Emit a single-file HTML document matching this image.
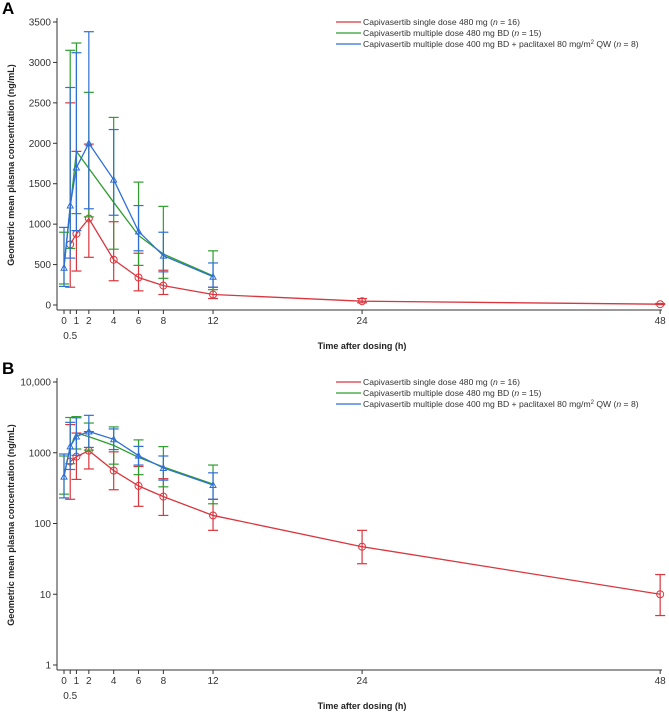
<!DOCTYPE html>
<html><head><meta charset="utf-8"><style>
body{margin:0;background:#fff;width:669px;height:712px;overflow:hidden}
svg{font-family:"Liberation Sans",sans-serif}
</style></head><body>
<svg id="chart" width="669" height="712" viewBox="0 0 669 712"></svg>
<script>
const times=[0,0.5,1,2,4,6,8,12,24,48];
const redT=[0.5,1,2,4,6,8,12,24,48];
const redMean=[750,880,1070,560,340,240,130,47,10];
const redLo=[220,420,590,300,175,130,80,27,5];
const redHi=[2500,1900,1990,1030,640,430,220,80,19];
const greenT=[0,0.5,1,2,4,6,8,12];
const greenMean=[480,1200,1900,1690,1270,860,630,360];
const greenLo=[260,700,1130,1090,690,490,330,190];
const greenHi=[900,3150,3240,2630,2320,1520,1220,670];
const blueT=[0,0.5,1,2,4,6,8,12];
const blueMean=[460,1230,1700,2000,1550,910,610,350];
const blueLo=[230,580,920,1190,1110,670,410,220];
const blueHi=[960,2690,3120,3380,2170,1230,900,520];
const linTicks=[0,500,1000,1500,2000,2500,3000,3500];
const logTicks=[1,10,100,1000,10000];
const logLabels=["1","10","100","1000","10,000"];
const xTicks=[0,1,2,4,6,8,12,24,48];
const legendLabels=['Capivasertib single dose 480 mg (<tspan font-style="italic">n</tspan> = 16)','Capivasertib multiple dose 480 mg BD (<tspan font-style="italic">n</tspan> = 15)','Capivasertib multiple dose 400 mg BD + paclitaxel 80 mg/m<tspan font-size="6" dy="-3">2</tspan><tspan dy="3"> QW (</tspan><tspan font-style="italic">n</tspan> = 8)'];
const colors=['#d9363e','#2e9e2e','#2f6fd6'];
const svg=document.getElementById('chart');
const NS='http://www.w3.org/2000/svg';
function mk(tag,attrs,parent){const e=document.createElementNS(NS,tag);for(const k in attrs)e.setAttribute(k,attrs[k]);(parent||svg).appendChild(e);return e;}
const xs=t=>64+t*12.42;
function panel(off,log,letter){
  const g=mk('g',{});
  
  
  const ys=log?(v=>off+305-Math.log10(v)*70.75):(v=>off+305-v*283/3500);
  const lt=mk('text',{x:2,y:off+14,'font-size':17,'font-weight':'bold'},g);lt.textContent=letter;
  
  const axY=off+310;
  const ya=mk('line',{x1:57,y1:off+18,x2:57,y2:axY,stroke:'#333','stroke-width':1},g);
  
  const xa=mk('line',{x1:57,y1:axY,x2:662,y2:axY,stroke:'#333','stroke-width':1},g);
  
  const yt=log?logTicks:linTicks;
  yt.forEach((v,i)=>{const y=ys(v);mk('line',{x1:53,y1:y,x2:57,y2:y,stroke:'#333'},g);
    const t=mk('text',{x:51,y:y+3.5,'font-size':10,'text-anchor':'end',fill:'#333'},g);t.textContent=log?logLabels[i]:v;
    });
  [0,0.5,1,2,4,6,8,12,24,48].forEach(v=>mk('line',{x1:xs(v),y1:axY,x2:xs(v),y2:axY+4,stroke:'#333'},g));
  xTicks.forEach(v=>{const t=mk('text',{x:xs(v),y:axY+14,'font-size':10,'text-anchor':'middle',fill:'#333'},g);t.textContent=v;
    });
  const h=mk('text',{x:xs(0.5),y:axY+29,'font-size':10,'text-anchor':'middle',fill:'#333'},g);h.textContent='0.5';
  const xt=mk('text',{x:362,y:off+349,'font-size':9,'font-weight':'bold','text-anchor':'middle',fill:'#222'},g);xt.textContent='Time after dosing (h)';
  
  const yy=off+165;
  const ytl=mk('text',{x:14,y:yy,'font-size':9,'font-weight':'bold','text-anchor':'middle',fill:'#222',transform:`rotate(-90 14 ${yy})`},g);ytl.textContent='Geometric mean plasma concentration (ng/mL)';
  
  const series=[[redT,redMean,redLo,redHi],[greenT,greenMean,greenLo,greenHi],[blueT,blueMean,blueLo,blueHi]];
  const names=['single-dose','multiple-dose','multiple-dose-paclitaxel'];
  series.forEach((s,si)=>{const c=colors[si];
    const sg=mk('g',{},g);
    s[0].forEach((t,i)=>{const x=xs(t);
      mk('line',{x1:x,y1:ys(s[2][i]),x2:x,y2:ys(s[3][i]),stroke:c,'stroke-width':1.2},sg);
      [s[2][i],s[3][i]].forEach(v=>mk('line',{x1:x-5,y1:ys(v),x2:x+5,y2:ys(v),stroke:c,'stroke-width':1.2},sg));});
    mk('polyline',{points:s[0].map((t,i)=>xs(t)+','+ys(s[1][i])).join(' '),fill:'none',stroke:c,'stroke-width':1.3},sg);
    s[0].forEach((t,i)=>{const x=xs(t),y=ys(s[1][i]);
      if(si==0)mk('circle',{cx:x,cy:y,r:3.5,fill:'none',stroke:c},sg);
      if(si==2)mk('path',{d:`M${x-3},${y+2.5}L${x},${y-3}L${x+3},${y+2.5}Z`,fill:'none',stroke:c},sg);});
  });
  legendLabels.forEach((l,i)=>{const y=off+22+i*11;
    const lg=mk('g',{},g);
    mk('line',{x1:336,y1:y,x2:361,y2:y,stroke:colors[i],'stroke-width':1.2},lg);
    const t=mk('text',{x:363,y:y+3,'font-size':8.6,fill:'#333'},lg);t.innerHTML=l;});
}
panel(0,false,'A');
panel(360,true,'B');
</script>
</body></html>
